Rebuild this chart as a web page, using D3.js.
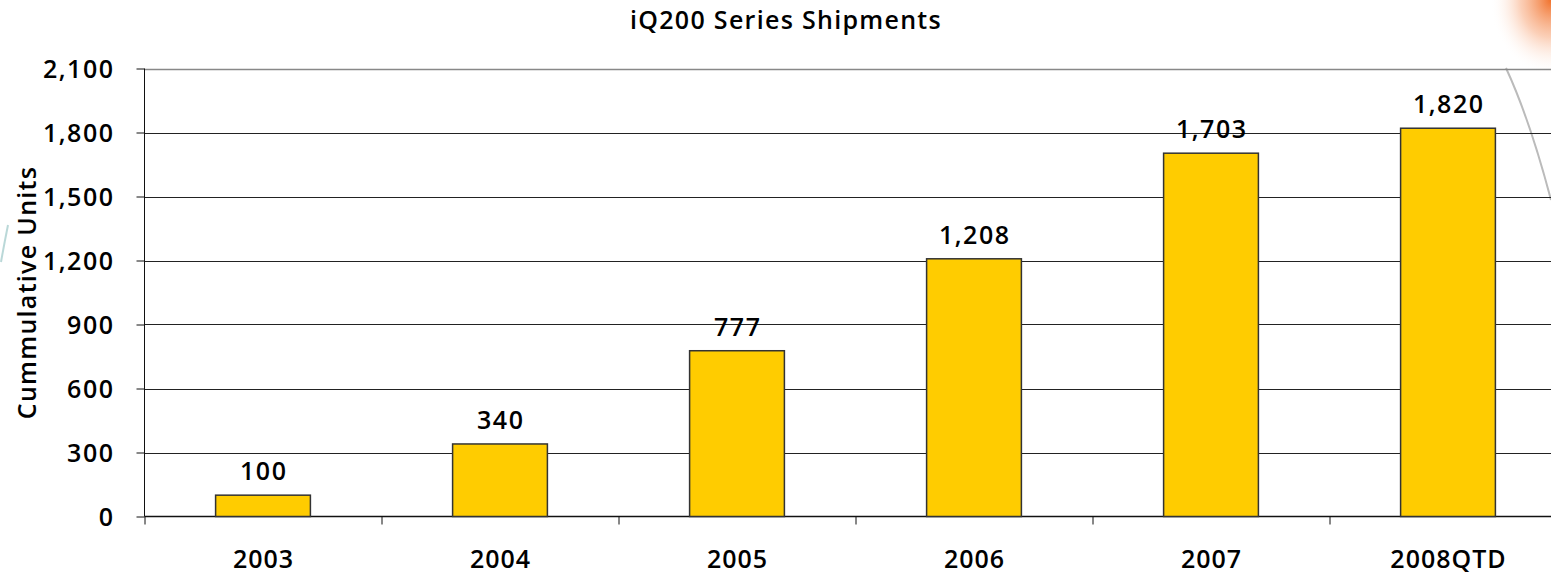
<!DOCTYPE html>
<html><head><meta charset="utf-8">
<script src="https://cdn.jsdelivr.net/npm/d3@7/dist/d3.min.js"></script>
<style>body{margin:0;background:#fff}svg{display:block}text{font-family:"Open Sans",sans-serif;font-weight:600;fill:#000}</style>
</head><body>
<svg id="c" width="1551" height="574"></svg>
<script>
const categories = ["2003","2004","2005","2006","2007","2008QTD"];
const values = [100,340,777,1208,1703,1820];
const yTicks = [0,300,600,900,1200,1500,1800,2100];
const title = "iQ200 Series Shipments";
const yLabel = "Cummulative Units";

const svg = d3.select("#c");
const mLeft = 144.5, mTop = 68.5, mBottom = 516.5, step = 237;
const x = d3.scaleBand().domain(categories).range([mLeft, mLeft + step*categories.length]).paddingInner(0.6).paddingOuter(0.3);
const y = d3.scaleLinear().domain([0,2100]).range([mBottom, mTop]);

// decorations
const defs = svg.append("defs");
const rg = defs.append("radialGradient").attr("id","og").attr("cx","1").attr("cy","0").attr("r","1");
rg.append("stop").attr("offset","0").attr("stop-color","#f06a20").attr("stop-opacity",0.95);
rg.append("stop").attr("offset","0.5").attr("stop-color","#f7a070").attr("stop-opacity",0.5);
rg.append("stop").attr("offset","1").attr("stop-color","#fff").attr("stop-opacity",0);
svg.append("rect").attr("x",1490).attr("y",0).attr("width",61).attr("height",75).attr("fill","url(#og)");
svg.append("path").attr("d","M1506,68 Q1530,120 1551,200").attr("fill","none").attr("stroke","#bbb").attr("stroke-width",2);
svg.append("path").attr("d","M8,225 Q4,245 1,262").attr("fill","none").attr("stroke","#9cc8c8").attr("stroke-width",2).attr("opacity",0.7);

// gridlines
svg.append("g").selectAll("line").data(yTicks.filter(d=>d>0)).join("line")
  .attr("x1",mLeft).attr("x2",1551).attr("y1",d=>Math.round(y(d))+0.5).attr("y2",d=>Math.round(y(d))+0.5)
  .attr("stroke",d=>d===2100?"#888":"#222").attr("stroke-width",d=>d===2100?1.5:1);

// y axis
const ya = svg.append("g").attr("transform",`translate(${mLeft},0)`)
  .call(d3.axisLeft(y).tickValues(yTicks).tickSize(8).tickPadding(22).tickFormat(d3.format(",")));
ya.select(".domain").attr("stroke","#111").attr("d",`M0,${mTop}V${mBottom}`);
ya.selectAll(".tick line").attr("stroke","#111");
ya.selectAll("text").attr("font-size",25).attr("dy","0.36em").attr("letter-spacing","1.5px")
  .style("font-family","'Open Sans',sans-serif").style("font-weight",600);

// x axis
const xa = svg.append("g").attr("transform",`translate(0,${mBottom})`);
xa.append("line").attr("x1",mLeft).attr("x2",1551).attr("stroke","#111").attr("stroke-width",1.5);
xa.selectAll("line.t").data(d3.range(categories.length+1)).join("line").attr("class","t")
  .attr("x1",i=>Math.round(mLeft+i*step)).attr("x2",i=>Math.round(mLeft+i*step)).attr("y1",0).attr("y2",8).attr("stroke","#111");
xa.selectAll("text").data(categories).join("text")
  .attr("x",d=>x(d)+x.bandwidth()/2+0.5).attr("y",51).attr("text-anchor","middle").attr("font-size",25).attr("letter-spacing","1px").text(d=>d);

// bars
svg.append("g").selectAll("rect").data(values).join("rect")
  .attr("x",(d,i)=>x(categories[i])).attr("width",x.bandwidth())
  .attr("y",d=>y(d)).attr("height",d=>mBottom-y(d))
  .attr("fill","#ffcc00").attr("stroke","#333").attr("stroke-width",1.5);

// value labels
svg.append("g").selectAll("text").data(values).join("text")
  .attr("x",(d,i)=>x(categories[i])+x.bandwidth()/2+0.75).attr("y",d=>y(d)-15)
  .attr("text-anchor","middle").attr("font-size",25).attr("letter-spacing","1.5px").text(d=>d3.format(",")(d));

// title
svg.append("text").attr("x",786).attr("y",29).attr("text-anchor","middle").attr("font-size",25).attr("letter-spacing","1.3px").text(title);
// y label
svg.append("text").attr("transform",`translate(36,${(mTop+mBottom)/2}) rotate(-90)`).attr("text-anchor","middle").attr("font-size",25).attr("letter-spacing","1.3px").text(yLabel);
</script>
</body></html>
